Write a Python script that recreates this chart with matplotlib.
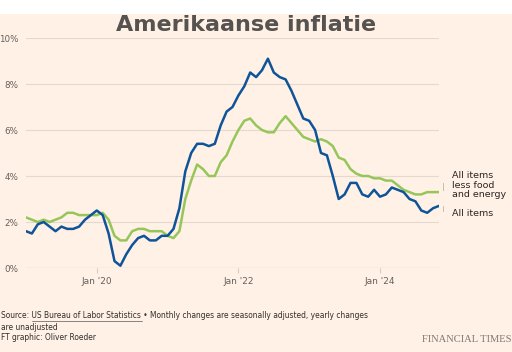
#!/usr/bin/python
"""
Amerikaanse inflatie: US CPI year-on-year, all items vs core.
"""

import matplotlib
matplotlib.use("Agg")
import matplotlib.pyplot as plt
from matplotlib.patches import Rectangle

# data, Jan 2019 - Nov 2024 (yearly % change)
all_items = [
    1.6, 1.5, 1.9, 2.0, 1.8, 1.6, 1.8, 1.7, 1.7, 1.8, 2.1, 2.3,
    2.5, 2.3, 1.5, 0.3, 0.1, 0.6, 1.0, 1.3, 1.4, 1.2, 1.2, 1.4,
    1.4, 1.7, 2.6, 4.2, 5.0, 5.4, 5.4, 5.3, 5.4, 6.2, 6.8, 7.0,
    7.5, 7.9, 8.5, 8.3, 8.6, 9.1, 8.5, 8.3, 8.2, 7.7, 7.1, 6.5,
    6.4, 6.0, 5.0, 4.9, 4.0, 3.0, 3.2, 3.7, 3.7, 3.2, 3.1, 3.4,
    3.1, 3.2, 3.5, 3.4, 3.3, 3.0, 2.9, 2.5, 2.4, 2.6, 2.7,
]
core = [
    2.2, 2.1, 2.0, 2.1, 2.0, 2.1, 2.2, 2.4, 2.4, 2.3, 2.3, 2.3,
    2.3, 2.4, 2.1, 1.4, 1.2, 1.2, 1.6, 1.7, 1.7, 1.6, 1.6, 1.6,
    1.4, 1.3, 1.6, 3.0, 3.8, 4.5, 4.3, 4.0, 4.0, 4.6, 4.9, 5.5,
    6.0, 6.4, 6.5, 6.2, 6.0, 5.9, 5.9, 6.3, 6.6, 6.3, 6.0, 5.7,
    5.6, 5.5, 5.6, 5.5, 5.3, 4.8, 4.7, 4.3, 4.1, 4.0, 4.0, 3.9,
    3.9, 3.8, 3.8, 3.6, 3.4, 3.3, 3.2, 3.2, 3.3, 3.3, 3.3,
]
tick_months = [12, 36, 60]
tick_labels = ["Jan '20", "Jan '22", "Jan '24"]
y_ticks = [0, 2, 4, 6, 8, 10]

BG = "#fff1e5"
BLUE = "#0f5499"
GREEN = "#96c65a"
GRID = "#e3d9cf"
TXT = "#66605c"

W, H = 512, 352
fig = plt.figure(figsize=(W / 100, H / 100), dpi=100, facecolor=BG)
fig.patches.append(Rectangle((0, 1 - 14 / H), 1, 14 / H, transform=fig.transFigure,
                             facecolor="white", edgecolor="none", zorder=0))

ax = fig.add_axes([26 / W, 1 - 268 / H, (439 - 26) / W, (268 - 38) / H])
ax.set_facecolor(BG)
months = list(range(len(all_items)))
ax.plot(months, core, color=GREEN, lw=1.8, zorder=3)
ax.plot(months, all_items, color=BLUE, lw=1.8, zorder=4)

ax.set_xlim(0, len(all_items) - 1)
ax.set_ylim(0, 10)
ax.set_yticks(y_ticks)
ax.set_yticklabels(["%d%%" % v for v in y_ticks])
ax.set_xticks(tick_months)
ax.set_xticklabels(tick_labels)
ax.grid(axis="y", color=GRID, lw=0.8)
for s in ax.spines.values():
    s.set_visible(False)
ax.axhline(0, color="#d8ccc0", lw=0.9, zorder=2)
ax.tick_params(axis="y", length=0, pad=5.5, labelsize=6.3, labelcolor=TXT)
ax.tick_params(axis="x", length=3.5, width=0.8, color="#d8ccc0", pad=3,
               labelsize=6.5, labelcolor=TXT)

# line labels
ax.annotate("All items\nless food\nand energy", xy=(1, 3.3), xycoords=("axes fraction", "data"),
            xytext=(9, 5), textcoords="offset points", fontsize=6.8, color="#2a2624",
            va="center", ha="left", linespacing=1.05, annotation_clip=False)
ax.annotate("All items", xy=(1, 2.7), xycoords=("axes fraction", "data"),
            xytext=(9, -5.5), textcoords="offset points", fontsize=6.8, color="#2a2624",
            va="center", ha="left", annotation_clip=False)
fig.add_artist(plt.Line2D([443 / W, 443 / W], [1 - 190 / H, 1 - 183 / H], color="#bbb3ab", lw=0.6))
fig.add_artist(plt.Line2D([443 / W, 443 / W], [1 - 211 / H, 1 - 206 / H], color="#bbb3ab", lw=0.6))

fig.text(246 / W, 1 - 25 / H, "Amerikaanse inflatie", ha="center", va="center",
         fontsize=16, fontweight="bold", color="#555250")

fig.text(1 / W, 1 - 316 / H, "Source: US Bureau of Labor Statistics \u2022 Monthly changes are seasonally adjusted, yearly changes",
         fontsize=5.45, color="#33302e", va="center")
fig.text(1 / W, 1 - 327 / H, "are unadjusted", fontsize=5.45, color="#33302e", va="center")
fig.text(1 / W, 1 - 338 / H, "FT graphic: Oliver Roeder", fontsize=5.45, color="#33302e", va="center")
fig.add_artist(plt.Line2D([32 / W, 142 / W], [1 - 320.5 / H, 1 - 320.5 / H], color="#33302e", lw=0.4))
fig.text(511 / W, 1 - 340 / H, "FINANCIAL TIMES", ha="right", va="center",
         fontsize=7.6, family="Liberation Serif", color="#807973")

fig.savefig("out.png", dpi=100, facecolor=BG)
